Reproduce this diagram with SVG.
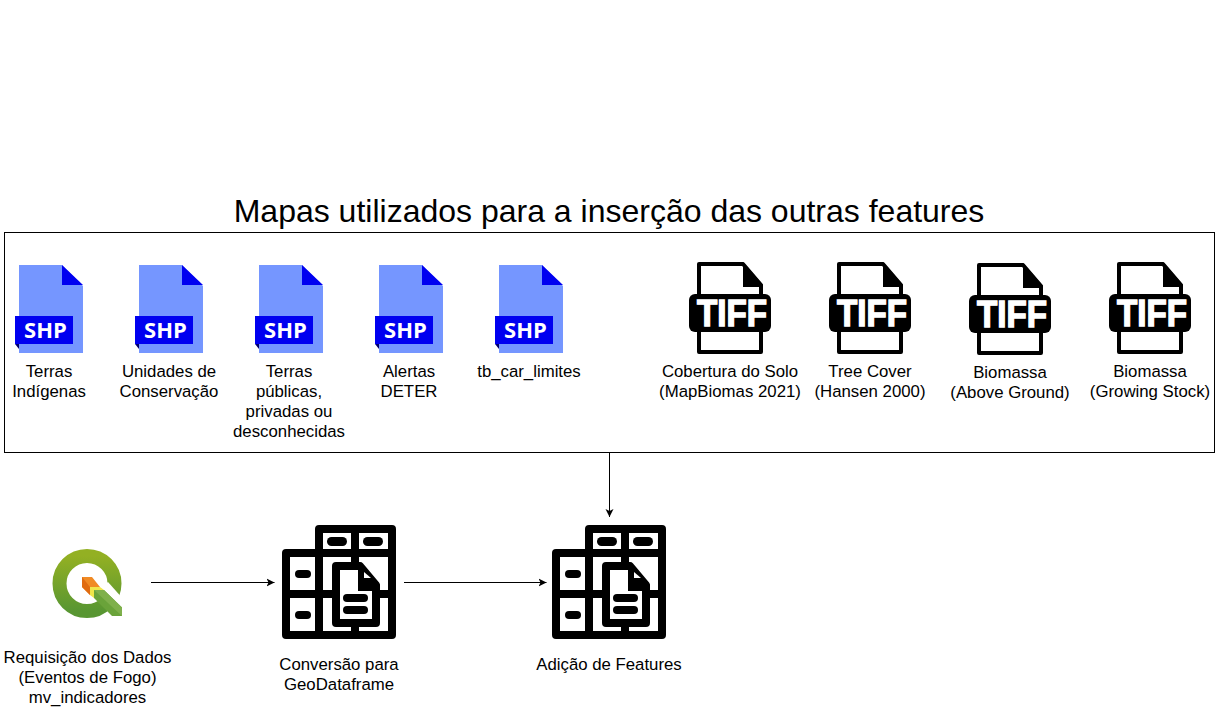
<svg xmlns="http://www.w3.org/2000/svg" width="1216" height="708" viewBox="0 0 1216 708">
<style>
text{font-family:"Liberation Sans",Arial,sans-serif;font-size:16.8px;fill:#000;text-anchor:middle}
.title{font-size:32px}
.conn{fill:none;stroke:#000;stroke-width:1}
.ic{fill:none;stroke:#000;stroke-width:8;stroke-linejoin:round}
.icw{fill:#fff;stroke:#000;stroke-width:8;stroke-linejoin:round}
.sl{font-family:"Open Sans","Liberation Sans",sans-serif;font-weight:bold;font-size:22px;fill:#fff}
.tl{font-weight:bold;font-size:36px;fill:#fff;stroke:#fff;stroke-width:1.4;text-anchor:start}
</style>
<defs>
<marker id="arrow" markerUnits="userSpaceOnUse" markerWidth="9" markerHeight="9" refX="8" refY="4.5" orient="auto"><path d="M0,0.5 L8,4.5 L0,8.5 L2,4.5 Z" fill="#000"/></marker>
<linearGradient id="qg" x1="0" y1="0" x2="0" y2="1"><stop offset="0" stop-color="#93b023"/><stop offset="1" stop-color="#589632"/></linearGradient>
<g id="shp">
<path d="M19,265 H62 L83,286 V353 H19 Z" fill="#7596ff"/>
<path d="M62,265 L83,285 H62 Z" fill="#0000f0"/>
<path d="M15,344 L19,349 V344 Z" fill="#00006e"/>
<rect x="15" y="316" width="58" height="28" fill="#0000f0"/>
<text class="sl" x="45.5" y="338">SHP</text>
</g>
<g id="tiff">
<path d="M699,264 H743 L761,285 V352 H699 Z" fill="#fff" stroke="#000" stroke-width="4" stroke-linejoin="round"/>
<path d="M743,262 L763,285 V287 H743 Z" fill="#000"/>
<rect x="689" y="294" width="82" height="38" rx="6" fill="#000"/>
<text class="tl" x="697" y="325.5" textLength="70" lengthAdjust="spacingAndGlyphs">TIFF</text>
</g>
<g id="table">
<path class="icw" d="M319,553 V529 H392 V635 H286 V553 Z"/>
<path class="ic" d="M286,594 H392 M319,553 V635 M355,529 V635 M319,553 H392"/>
<path class="icw" d="M336,566 H360 L376,585 V623 H336 Z"/>
<path d="M358,562 L380,585 V591 H358 Z" fill="#000"/>
<path d="M364,572 L371,578 H364 Z" fill="#fff"/>
<rect x="327" y="537" width="20" height="9" rx="4.5" fill="#000"/>
<rect x="363" y="537" width="20" height="9" rx="4.5" fill="#000"/>
<rect x="295" y="570" width="16" height="8" rx="4" fill="#000"/>
<rect x="295" y="611" width="16" height="8" rx="4" fill="#000"/>
<rect x="343" y="594" width="25" height="8" rx="4" fill="#000"/>
<rect x="343" y="606" width="25" height="8" rx="4" fill="#000"/>
</g>
</defs>

<text id="title" class="title" x="609" y="222">Mapas utilizados para a inserção das outras features</text>

<g id="container"><rect x="4.5" y="232.5" width="1210" height="220" fill="#fff" stroke="#000"/></g>

<g id="connectors">
<path class="conn" d="M609.5,453 V517" marker-end="url(#arrow)"/>
<path class="conn" d="M151,582.5 H274.5" marker-end="url(#arrow)"/>
<path class="conn" d="M404,582.5 H546.5" marker-end="url(#arrow)"/>
</g>

<g id="shp-terras-indigenas"><use href="#shp"/><text x="49" y="377">Terras</text><text x="49" y="397">Indígenas</text></g>
<g id="shp-unidades"><use href="#shp" x="120"/><text x="169" y="377">Unidades de</text><text x="169" y="397">Conservação</text></g>
<g id="shp-terras-publicas"><use href="#shp" x="240"/><text x="289" y="377">Terras</text><text x="289" y="397">públicas,</text><text x="289" y="417">privadas ou</text><text x="289" y="437">desconhecidas</text></g>
<g id="shp-deter"><use href="#shp" x="360"/><text x="409" y="377">Alertas</text><text x="409" y="397">DETER</text></g>
<g id="shp-car"><use href="#shp" x="480"/><text x="529" y="377">tb_car_limites</text></g>

<g id="tiff-cobertura"><use href="#tiff"/><text x="730" y="377">Cobertura do Solo</text><text x="730" y="397">(MapBiomas 2021)</text></g>
<g id="tiff-treecover"><use href="#tiff" x="140"/><text x="870" y="377">Tree Cover</text><text x="870" y="397">(Hansen 2000)</text></g>
<g id="tiff-above"><use href="#tiff" x="280" y="1"/><text x="1010" y="378">Biomassa</text><text x="1010" y="398">(Above Ground)</text></g>
<g id="tiff-growing"><use href="#tiff" x="420"/><text x="1150" y="377">Biomassa</text><text x="1150" y="397">(Growing Stock)</text></g>

<g id="qgis">
<circle cx="87" cy="583.5" r="27.5" fill="none" stroke="url(#qg)" stroke-width="14"/>
<path d="M96,592 L112,616 H124 V600 L108,582 Z" fill="#fff"/>
<path d="M94,590 H104 L122,607.5 V616 H112 L94,598 Z" fill="#6aa33a"/>
<path d="M94,590 H104 L122,607.5 V616 Z" fill="#7fb04c"/>
<path d="M90,587 H100 L104,590 H94 V598 L90,595 Z" fill="#f0e64a"/>
<path d="M82,577 H92 L100,587 H90 V595 L82,587 Z" fill="#f08a24"/>
<path d="M82,577 V587 L90,595 V587 Z" fill="#e06b10"/>
<text x="87.5" y="663">Requisição dos Dados</text><text x="87.5" y="683">(Eventos de Fogo)</text><text x="87.5" y="703">mv_indicadores</text>
</g>
<g id="conversao"><use href="#table"/><text x="339" y="670">Conversão para</text><text x="339" y="690">GeoDataframe</text></g>
<g id="adicao"><use href="#table" x="270"/><text x="609" y="670">Adição de Features</text></g>
</svg>
